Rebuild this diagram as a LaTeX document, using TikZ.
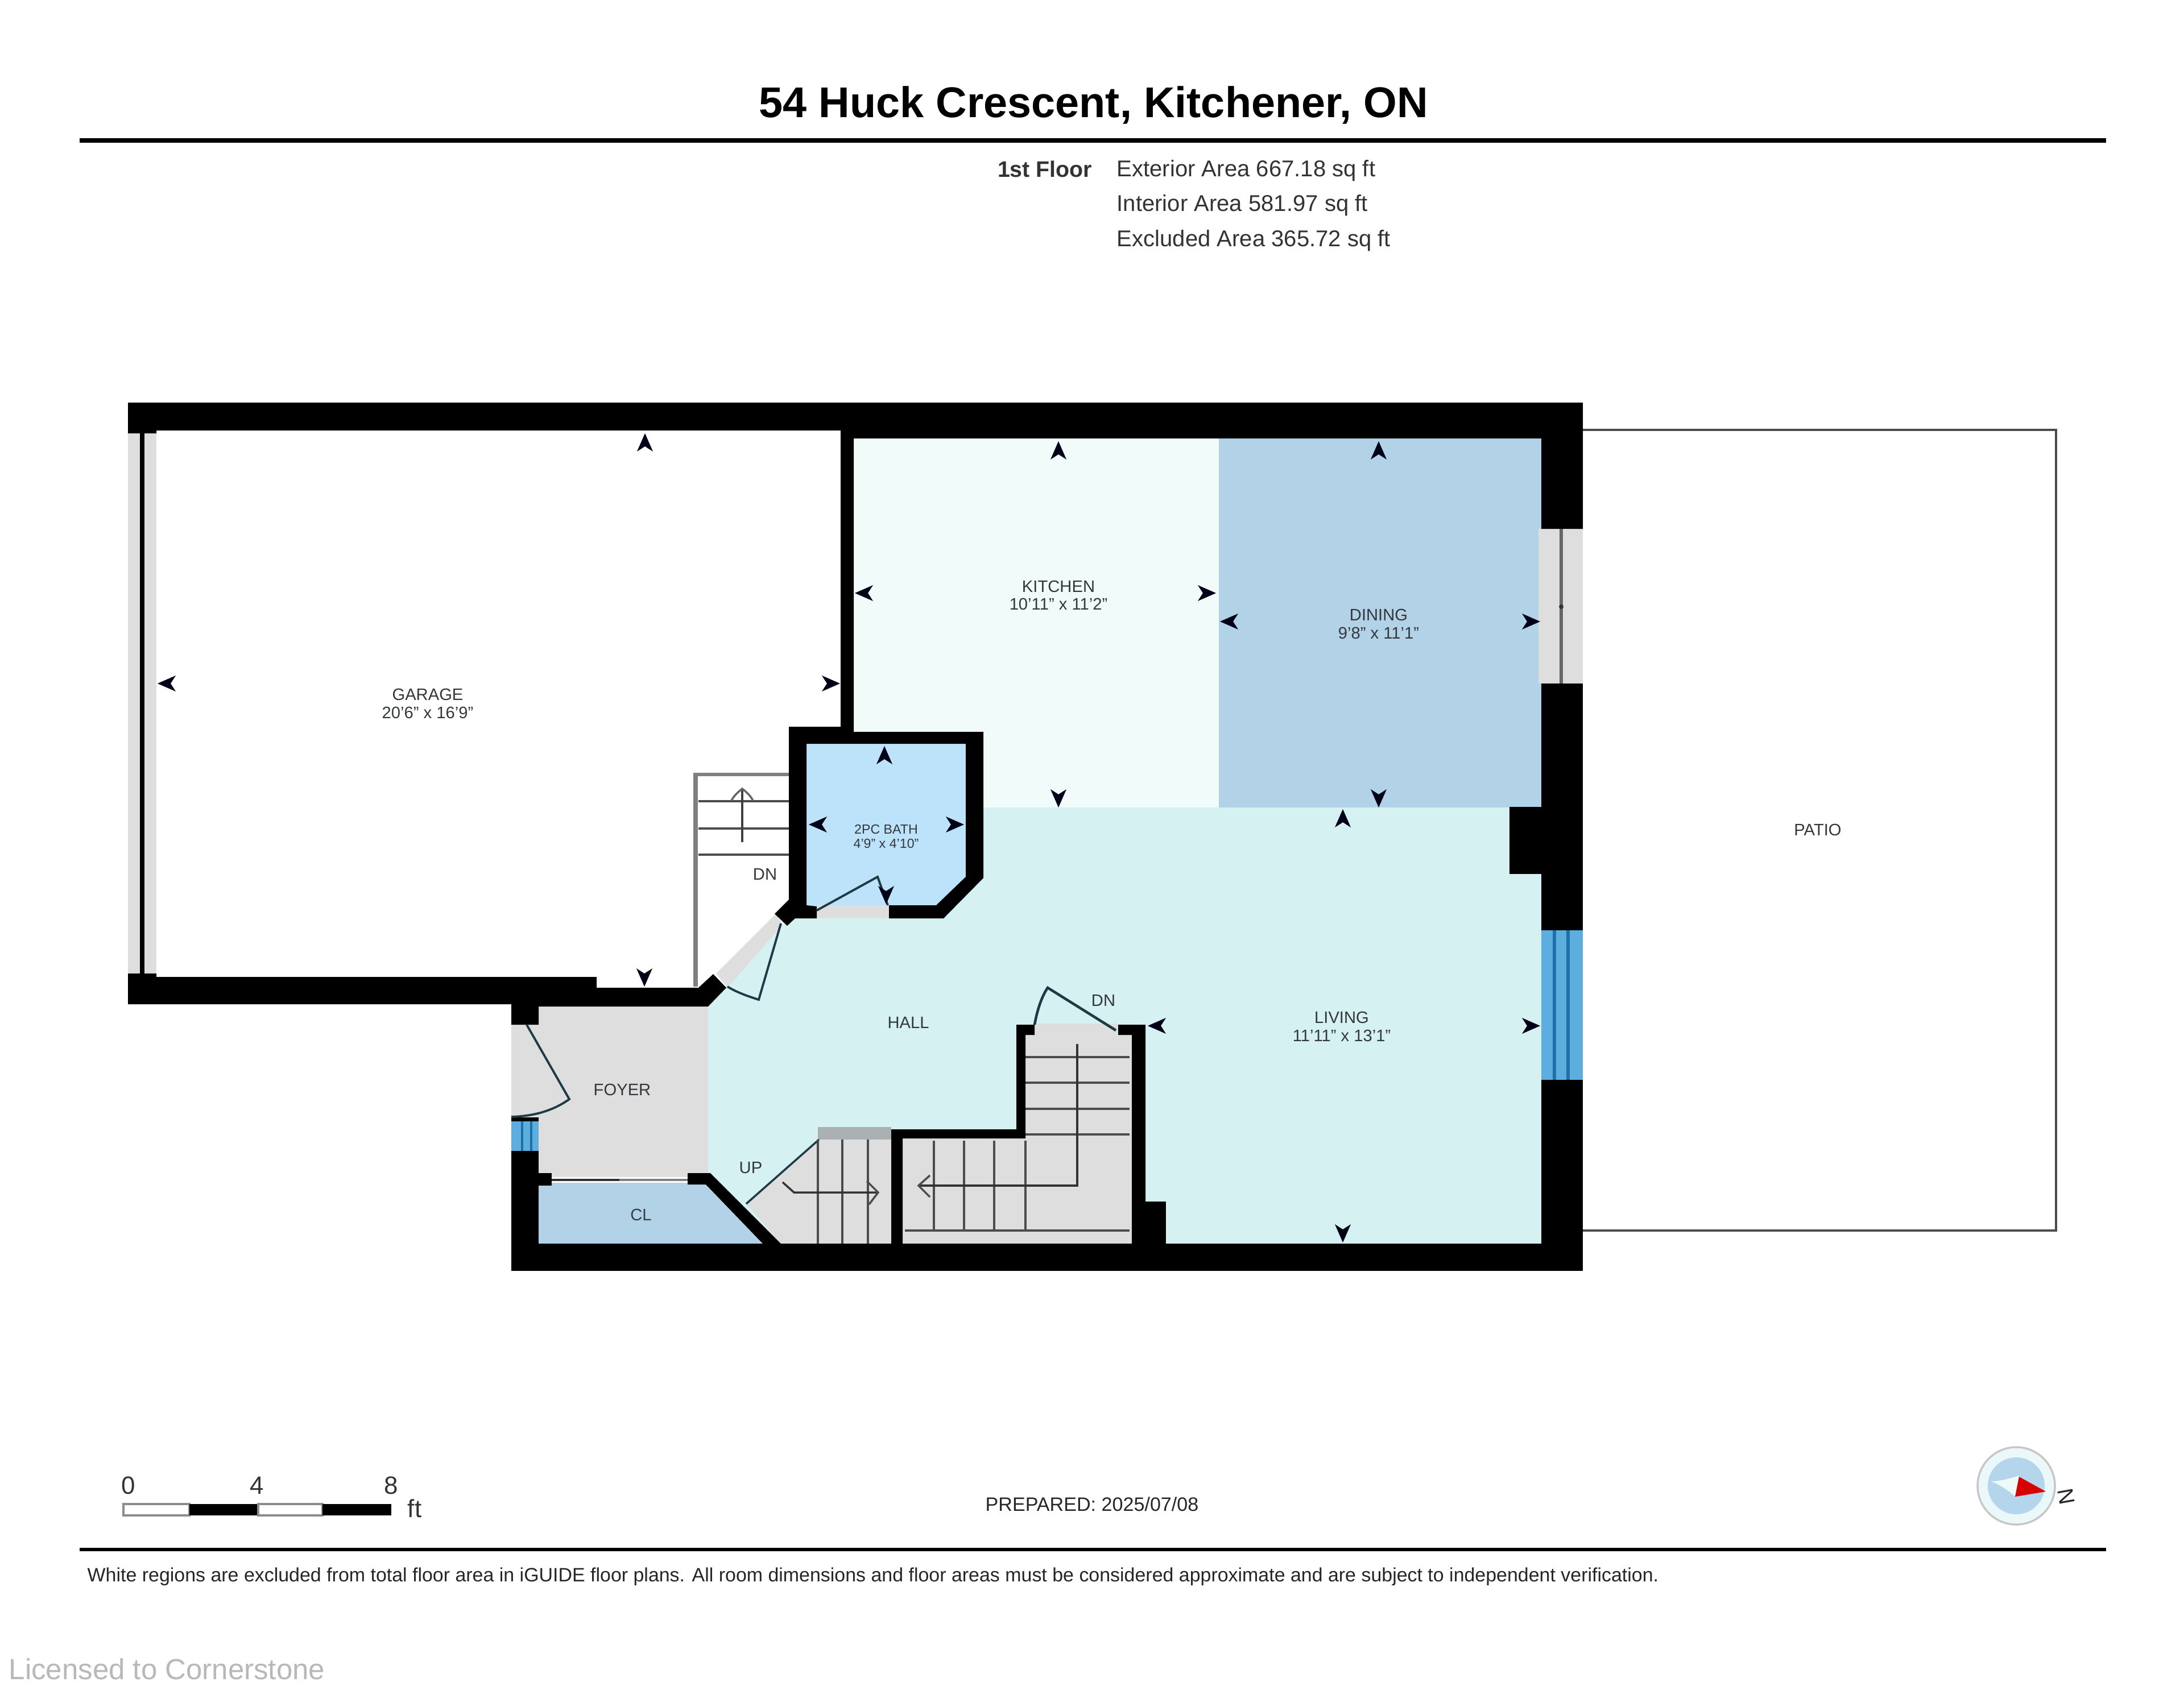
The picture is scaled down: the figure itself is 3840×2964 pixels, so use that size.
\documentclass[tikz,border=0pt]{standalone}
\usepackage{fontspec}
\setmainfont{Liberation Sans}
\definecolor{wallc}{HTML}{000000}
\definecolor{kitchenc}{HTML}{F0FBFA}
\definecolor{diningc}{HTML}{B2D2E7}
\definecolor{hallc}{HTML}{D6F1F2}
\definecolor{bathc}{HTML}{BDE3FA}
\definecolor{grayroom}{HTML}{DEDEDE}
\definecolor{landc}{HTML}{ABB0B3}
\definecolor{winc}{HTML}{5BAEDD}
\definecolor{windark}{HTML}{1F6FA8}
\definecolor{labelc}{HTML}{33383C}
\definecolor{doorc}{HTML}{1E3A44}
\tikzset{
  wall/.style={fill=black},
  doorline/.style={draw=doorc,line width=1.1pt},
  tread/.style={draw=black!70,line width=1.1pt},
  lbl/.style={text=labelc,inner sep=0pt,font=\fontsize{8.3}{10}\selectfont},
  smalllbl/.style={text=labelc,inner sep=0pt,font=\fontsize{6.6}{8}\selectfont},
  info/.style={text=black!80,inner sep=0pt,font=\fontsize{11.4}{13}\selectfont,anchor=west},
  darr/.style={fill=black!90!blue},
}
\newcommand{\dimarrow}[3]{\fill[darr,shift={(#1,#2)},rotate=#3] (0,0)--(-32,-14)--(-23,0)--(-32,14)--cycle;}
\begin{document}
\begin{tikzpicture}[x=0.01cm,y=-0.01cm]
\useasboundingbox (0,0) rectangle (3840,2964);
\fill[white] (0,0) rectangle (3840,2964);

% header
\node[inner sep=0pt,font=\fontsize{21.5}{26}\selectfont\bfseries] (title) at (1923,185) {54 Huck Crescent, Kitchener, ON};
\coordinate (r1a) at (140,247); \coordinate (r1b) at (3703,247);
\draw[line width=2.2pt] (r1a) -- (r1b);
\node[info,anchor=east,font=\fontsize{11.2}{13}\selectfont\bfseries] (floor) at (1921,297) {1st Floor};
\node[info] (ext) at (1963,300) {Exterior Area 667.18 sq ft};
\node[info] (int) at (1963,361) {Interior Area 581.97 sq ft};
\node[info] (exc) at (1963,423) {Excluded Area 365.72 sq ft};

% room fills
\fill[kitchenc] (1480,760) rectangle (2143,1440);
\fill[diningc] (2143,760) rectangle (2720,1420);
\fill[hallc] (1245,1770) -- (1245,2063) -- (1249,2063) -- (1376,2190) -- (2720,2190) -- (2720,1420) -- (1729,1420) -- (1729,1544) -- (1659,1615) -- (1398,1615) -- (1375,1626) -- (1279,1735) -- cycle;
\fill[bathc] (1410,1300) -- (1705,1300) -- (1705,1545) -- (1650,1600) -- (1410,1600) -- cycle;
\fill[grayroom] (945,1765) rectangle (1245,2070);
\fill[diningc] (945,2080) -- (1241,2080) -- (1344,2190) -- (945,2190) -- cycle;

% patio
\coordinate (p1) at (2783,756); \coordinate (p2) at (3615,756);
\coordinate (p3) at (3615,2164); \coordinate (p4) at (2783,2164);
\draw[black!70,line width=0.9pt] (p1) -- (p2) -- (p3) -- (p4);

% garage window
\fill[grayroom] (225,755) rectangle (275,1720);
\draw[black,line width=2.4pt] (250,755) -- (250,1720);

% right door
\fill[grayroom] (2705,930) rectangle (2783,1202);
\draw[black!60,line width=1.6pt] (2745,930) -- (2745,1202);
\fill[black!80] (2745,1067) circle (4);

% right window
\fill[winc] (2710,1636) rectangle (2783,1899);
\draw[windark,line width=1.5pt] (2733,1636) -- (2733,1899);
\draw[windark,line width=1.5pt] (2757,1636) -- (2757,1899);

% foyer door sill and window
\fill[grayroom] (899,1802) rectangle (947,1966);
\fill[winc] (899,1972) rectangle (947,2024);
\draw[windark,line width=1pt] (918,1972) -- (918,2024);
\draw[windark,line width=1pt] (934,1972) -- (934,2024);

% garage stairs
\fill[grayroom] (1259,1712) -- (1364,1607) -- (1376,1626) -- (1279,1737) -- cycle;
\draw[black!50,line width=2.4pt] (1223,1735) -- (1223,1365);
\draw[black!50,line width=1.6pt] (1219,1362) -- (1387,1362);
\draw[tread] (1228,1409) -- (1387,1409);
\draw[tread] (1228,1457) -- (1387,1457);
\draw[tread] (1228,1503) -- (1387,1503);
\draw[black!75,line width=1pt] (1305,1481) -- (1305,1387);
\draw[black!60,line width=1pt] (1286,1408) .. controls (1291,1398) and (1299,1392) .. (1305,1387) .. controls (1311,1392) and (1319,1398) .. (1324,1408);

% lower stairs
\fill[grayroom] (1440,2004) -- (1567,2004) -- (1567,2190) -- (1376,2190) -- (1312,2117) -- cycle;
\fill[landc] (1438,1982) rectangle (1567,2004);
\fill[grayroom] (1803,1815) rectangle (1990,2190);
\fill[grayroom] (1587,2000) rectangle (1803,2190);
\fill[grayroom] (1819,1800) rectangle (1966,1820);
\fill[grayroom] (1436,1592) rectangle (1563,1615);

\draw[doorc,line width=1pt] (1312,2117) -- (1440,2004);
\foreach \tx in {1438,1481,1526} \draw[tread,line width=0.9pt] (\tx,2004) -- (\tx,2190);
\draw[black!80,line width=1pt] (1376,2079) -- (1396,2097) -- (1544,2097);
\draw[black!70,line width=1pt] (1524,2077) -- (1544,2097) -- (1528,2118);
\foreach \ty in {1859,1904,1950,1995} \draw[tread] (1803,\ty) -- (1986,\ty);
\foreach \tx in {1642,1695,1748,1803} \draw[tread,line width=0.9pt] (\tx,2006) -- (\tx,2164);
\draw[tread] (1591,2164) -- (1986,2164);
\draw[black!80,line width=1pt] (1894,1836) -- (1894,2085) -- (1615,2085);
\draw[black!70,line width=1pt] (1635,2067) -- (1615,2085) -- (1635,2105);

% walls
\fill[wall] (225,708) -- (2783,708) -- (2783,930) -- (2710,930) -- (2710,771) -- (1501,771) -- (1501,1287) -- (1729,1287) -- (1729,1544) -- (1659,1615) -- (1563,1615) -- (1563,1592) -- (1646,1592) -- (1698,1542) -- (1698,1308) -- (1418,1308) -- (1418,1592) -- (1436,1594) -- (1436,1615) -- (1398,1615) -- (1384,1628) -- (1362,1607) -- (1387,1582) -- (1387,1278) -- (1478,1278) -- (1478,757) -- (275,757) -- (275,762) -- (225,762) -- cycle;
\fill[wall] (2710,1202) rectangle (2783,1419);
\fill[wall] (2654,1419) rectangle (2783,1537);
\fill[wall] (2710,1537) rectangle (2783,1636);
\fill[wall] (2710,1899) rectangle (2783,2235);
\fill[wall] (899,2187) rectangle (2783,2235);
\fill[wall] (225,1712) -- (275,1712) -- (275,1718) -- (1049,1718) -- (1049,1737) -- (1228,1737) -- (1254,1713) -- (1277,1737) -- (1245,1770) -- (947,1770) -- (947,1802) -- (899,1802) -- (899,1766) -- (225,1766) -- cycle;
\fill[wall] (899,1965) rectangle (947,1972);
\fill[wall] (899,2024) rectangle (947,2235);
\fill[wall] (947,2063) rectangle (970,2085);
\fill[wall] (1209,2063) -- (1249,2063) -- (1376,2190) -- (1344,2190) -- (1241,2083) -- (1209,2083) -- cycle;
\fill[wall] (1567,1986) -- (1787,1986) -- (1787,1802) -- (1819,1802) -- (1819,1820) -- (1803,1820) -- (1803,2002) -- (1587,2002) -- (1587,2190) -- (1567,2190) -- cycle;
\fill[wall] (1966,1802) -- (2014,1802) -- (2014,2190) -- (1990,2190) -- (1990,1820) -- (1966,1820) -- cycle;
\fill[wall] (2014,2113) rectangle (2050,2190);

% closet door
\draw[black!80,line width=1.1pt] (970,2075) -- (1089,2075);
\draw[black!50,line width=1.1pt] (1089,2075) -- (1209,2075);

% doors
\draw[doorline] (926,1802) -- (1001,1933) .. controls (970,1955) and (935,1963) .. (899,1964);
\draw[doorline] (1373,1624) -- (1334,1758) .. controls (1315,1752) and (1295,1745) .. (1279,1735);
\draw[doorline] (1436,1601) -- (1543,1542) -- (1561,1592);
\draw[doorline,line width=1.3pt] (1962,1812) -- (1842,1737) .. controls (1830,1755) and (1823,1780) .. (1819,1802);

% dimension arrows
\dimarrow{1134}{762}{90}
\dimarrow{277}{1202}{180}
\dimarrow{1477}{1202}{0}
\dimarrow{1133}{1735}{270}
\dimarrow{1861}{776}{90}
\dimarrow{1503}{1043}{180}
\dimarrow{2138}{1043}{0}
\dimarrow{1861}{1420}{270}
\dimarrow{2424}{776}{90}
\dimarrow{2145}{1093}{180}
\dimarrow{2708}{1093}{0}
\dimarrow{2424}{1420}{270}
\dimarrow{1555}{1312}{90}
\dimarrow{1422}{1450}{180}
\dimarrow{1695}{1450}{0}
\dimarrow{1558}{1590}{270}
\dimarrow{2361}{1423}{90}
\dimarrow{2018}{1804}{180}
\dimarrow{2708}{1804}{0}
\dimarrow{2361}{2185}{270}

% room labels
\node[lbl] (garageA) at (752,1221) {GARAGE};
\node[lbl] (garageB) at (752,1253) {20'6" x 16'9"};
\node[lbl] (kitchenA) at (1861,1031) {KITCHEN};
\node[lbl] (kitchenB) at (1861,1062) {10'11" x 11'2"};
\node[lbl] (diningA) at (2424,1081) {DINING};
\node[lbl] (diningB) at (2424,1113) {9'8" x 11'1"};
\node[smalllbl] (bathA) at (1558,1458) {2PC BATH};
\node[smalllbl] (bathB) at (1558,1483) {4'9" x 4'10"};
\node[lbl] (livingA) at (2359,1789) {LIVING};
\node[lbl] (livingB) at (2359,1821) {11'11" x 13'1"};
\node[lbl] (hall) at (1597,1798) {HALL};
\node[lbl] (foyer) at (1094,1916) {FOYER};
\node[lbl,text=diningc!30!black] (cl) at (1127,2136) {CL};
\node[lbl] (up) at (1320,2054) {UP};
\node[lbl] (dna) at (1345,1537) {DN};
\node[lbl] (dnb) at (1940,1759) {DN};
\node[lbl] (patio) at (3196,1459) {PATIO};

% scale bar
\draw[black!45,line width=0.9pt,fill=white] (217,2645) rectangle (333,2665);
\fill[black] (333,2645) rectangle (454,2665);
\draw[black!45,line width=0.9pt,fill=white] (454,2645) rectangle (567,2665);
\fill[black] (567,2645) rectangle (688,2665);
\node[inner sep=0pt,text=black!80,font=\fontsize{12.5}{15}\selectfont] (s0) at (226,2612) {0};
\node[inner sep=0pt,text=black!80,font=\fontsize{12.5}{15}\selectfont] (s4) at (452,2612) {4};
\node[inner sep=0pt,text=black!80,font=\fontsize{12.5}{15}\selectfont] (s8) at (688,2612) {8};
\node[inner sep=0pt,text=black!80,font=\fontsize{12.5}{15}\selectfont] (sft) at (729,2653) {ft};

\node[inner sep=0pt,text=black!85,font=\fontsize{9.7}{12}\selectfont] (prep) at (1920,2645) {PREPARED: 2025/07/08};

% compass
\fill[hallc!50!white] (3545,2613) circle (66);
\draw[black!22,line width=1pt] (3545,2613) circle (68);
\fill[diningc!80!bathc] (3545,2613) circle (50);
\fill[hallc!40!white] (3500,2605) .. controls (3515,2605) and (3535,2600) .. (3550,2595) -- (3543,2632) .. controls (3530,2620) and (3515,2610) .. (3500,2605) -- cycle;
\fill[red!85!black] (3550,2597) -- (3597,2623) -- (3543,2632) -- cycle;
\node[inner sep=0pt,rotate=-80,text=black!85,font=\fontsize{11}{13}\selectfont] (north) at (3633,2632) {N};

% footer
\coordinate (r2a) at (140,2725); \coordinate (r2b) at (3703,2725);
\draw[line width=1.8pt] (r2a) -- (r2b);
\node[inner sep=0pt,anchor=west,text=black!85,font=\fontsize{9.65}{11}\selectfont] (foot) at (153,2773) {White regions are excluded from total floor area in iGUIDE floor plans. All room dimensions and floor areas must be considered approximate and are subject to independent verification.};
\node[inner sep=0pt,anchor=west,text=black!28,font=\fontsize{14.5}{17}\selectfont] (mark) at (15,2935) {Licensed to Cornerstone};
\end{tikzpicture}
\end{document}
